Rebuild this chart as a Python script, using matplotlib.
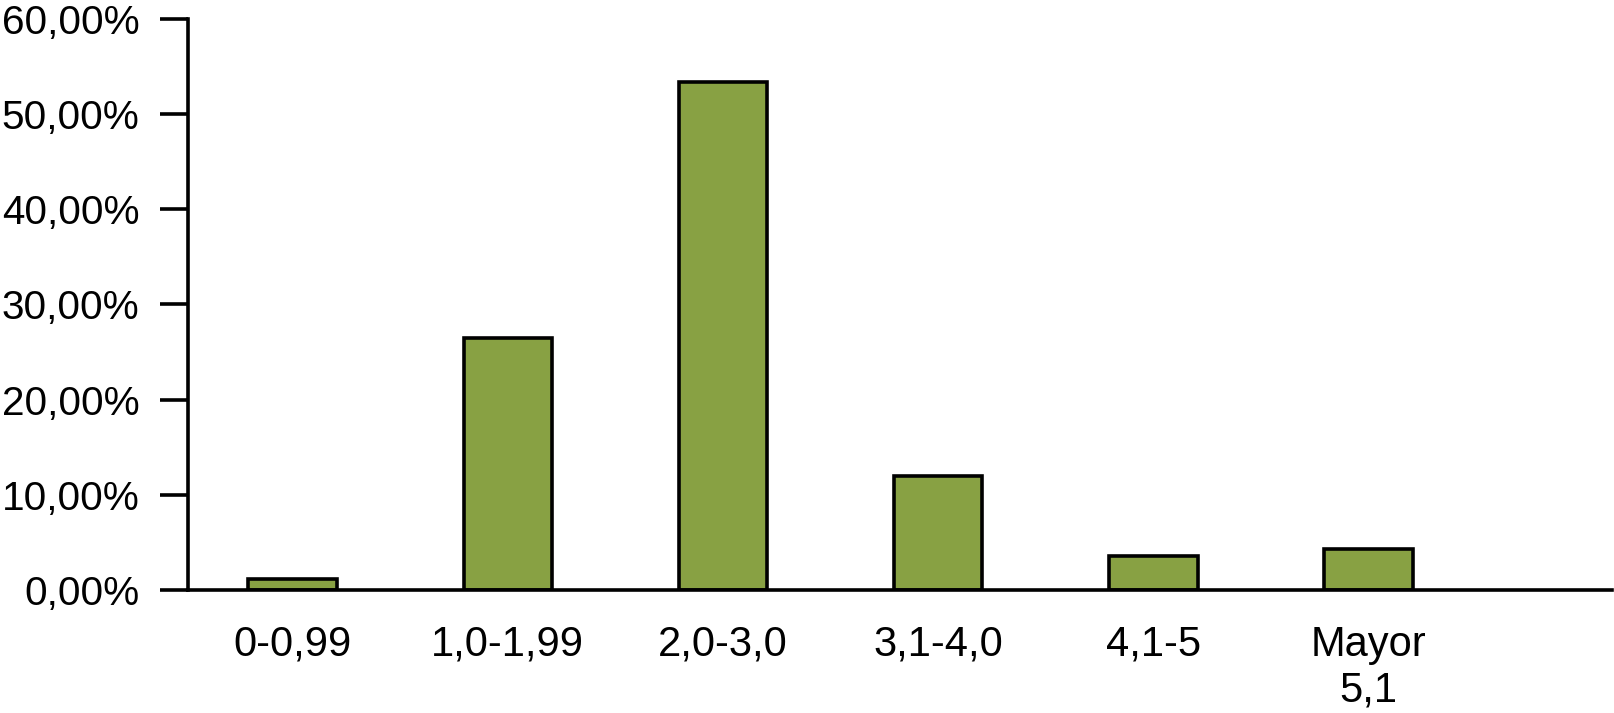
import matplotlib
matplotlib.use("Agg")
import matplotlib.pyplot as plt

categories = ["0-0,99", "1,0-1,99", "2,0-3,0", "3,1-4,0", "4,1-5", "Mayor\n5,1"]
values = [1.2, 26.5, 53.3, 12.0, 3.6, 4.3]
yticks = [0, 10, 20, 30, 40, 50, 60]
ytick_labels = ["0,00%", "10,00%", "20,00%", "30,00%", "40,00%", "50,00%", "60,00%"]

plt.rcParams['font.family'] = ['Liberation Sans', 'DejaVu Sans']

fig = plt.figure(figsize=(16.15, 7.13), dpi=100)
ax = fig.add_axes([0.1164, 0.1725, 0.8816, 0.8015])

x = list(range(len(categories)))
ax.bar(x, values, width=0.41, color="#88A143", edgecolor="black", linewidth=2.6, zorder=3)

ax.set_xlim(-0.486, 6.13)
ax.set_ylim(0, 60)
ax.set_yticks(yticks)
ax.set_yticklabels(ytick_labels)
ax.set_xticks(x)
ax.set_xticklabels(categories)

for s in ["top", "right"]:
    ax.spines[s].set_visible(False)
for s in ["left", "bottom"]:
    ax.spines[s].set_linewidth(2.6)
    ax.spines[s].set_zorder(4)

ax.tick_params(axis="y", length=20, width=2.6, pad=15, labelsize=29.2)
ax.tick_params(axis="x", length=0, pad=25, labelsize=30)

fig.savefig("out.png", dpi=100)
